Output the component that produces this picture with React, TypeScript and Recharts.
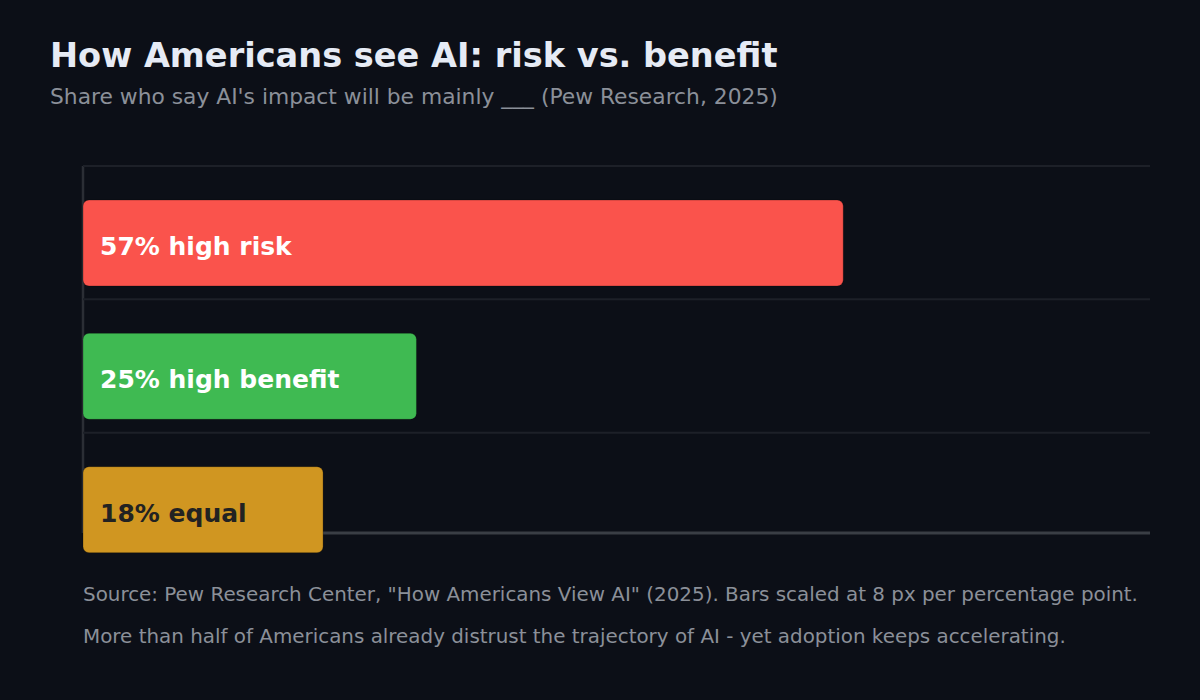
import { BarChart, Bar, XAxis, YAxis, CartesianGrid, LabelList, Cell } from 'recharts'

const categories = ['high risk', 'high benefit', 'equal']
const shares = [57, 25, 18]
const barColors = ['#fa534c', '#3fba52', '#d09621']
const labelColors = ['#ffffff', '#ffffff', '#222222']

const data = categories.map((name, i) => ({ name, value: shares[i] }))

const W = 1200
const H = 700
const margin = { top: 176, right: 50, bottom: 124, left: 83 }
const font = '"DejaVu Sans", Verdana, sans-serif'

function BarLabel(props: any) {
  const { x, y, height, index } = props
  return (
    <text
      x={x + 17}
      y={y + height / 2 + 5}
      dominantBaseline="middle"
      fill={labelColors[index]}
      fontFamily={font}
      fontWeight="bold"
      fontSize={25}
    >
      {`${shares[index]}% ${categories[index]}`}
    </text>
  )
}

export default function App() {
  return (
    <div style={{ position: 'absolute', left: 0, top: 0, width: W, height: H, background: '#0c0f17', fontFamily: font }}>
      <div style={{ position: 'absolute', left: 50, top: 36, fontSize: 33.6, fontWeight: 'bold', color: '#e6ebf5', whiteSpace: 'nowrap' }}>
        How Americans see AI: risk vs. benefit
      </div>
      <div style={{ position: 'absolute', left: 50, top: 84, fontSize: 21.8, color: '#8b9099', whiteSpace: 'nowrap' }}>
        Share who say AI's impact will be mainly ___ (Pew Research, 2025)
      </div>

      {/* axis lines sit under the bars */}
      <svg width={W} height={H} style={{ position: 'absolute', left: 0, top: 0 }}>
        <line x1={83} y1={166} x2={83} y2={533} stroke="#2b2e35" strokeWidth={2.5} />
        <line x1={83} y1={533} x2={1150} y2={533} stroke="#3a3e45" strokeWidth={3} />
      </svg>

      <div style={{ position: 'absolute', left: 0, top: 0 }}>
        <BarChart width={W} height={H} data={data} layout="vertical" margin={margin}>
          <CartesianGrid
            vertical={false}
            stroke="#1d2028"
            strokeWidth={2}
            horizontalCoordinatesGenerator={({ offset }: any) =>
              categories.map((_, i) => offset.top - 10 + (i * offset.height) / categories.length)
            }
          />
          <XAxis type="number" domain={[0, 80]} hide />
          <YAxis type="category" dataKey="name" hide />
          <Bar dataKey="value" barSize={86} radius={6} stroke="rgba(0,0,0,0.25)" strokeWidth={1} isAnimationActive={false}>
            {data.map((d, i) => (
              <Cell key={d.name} fill={barColors[i]} />
            ))}
            <LabelList dataKey="value" content={<BarLabel />} />
          </Bar>
        </BarChart>
      </div>

      <div style={{ position: 'absolute', left: 83, top: 583, fontSize: 19.9, color: '#8b9099', whiteSpace: 'nowrap' }}>
        Source: Pew Research Center, "How Americans View AI" (2025). Bars scaled at 8 px per percentage point.
      </div>
      <div style={{ position: 'absolute', left: 83, top: 625, fontSize: 19.9, color: '#8b9099', whiteSpace: 'nowrap' }}>
        More than half of Americans already distrust the trajectory of AI - yet adoption keeps accelerating.
      </div>
    </div>
  )
}
